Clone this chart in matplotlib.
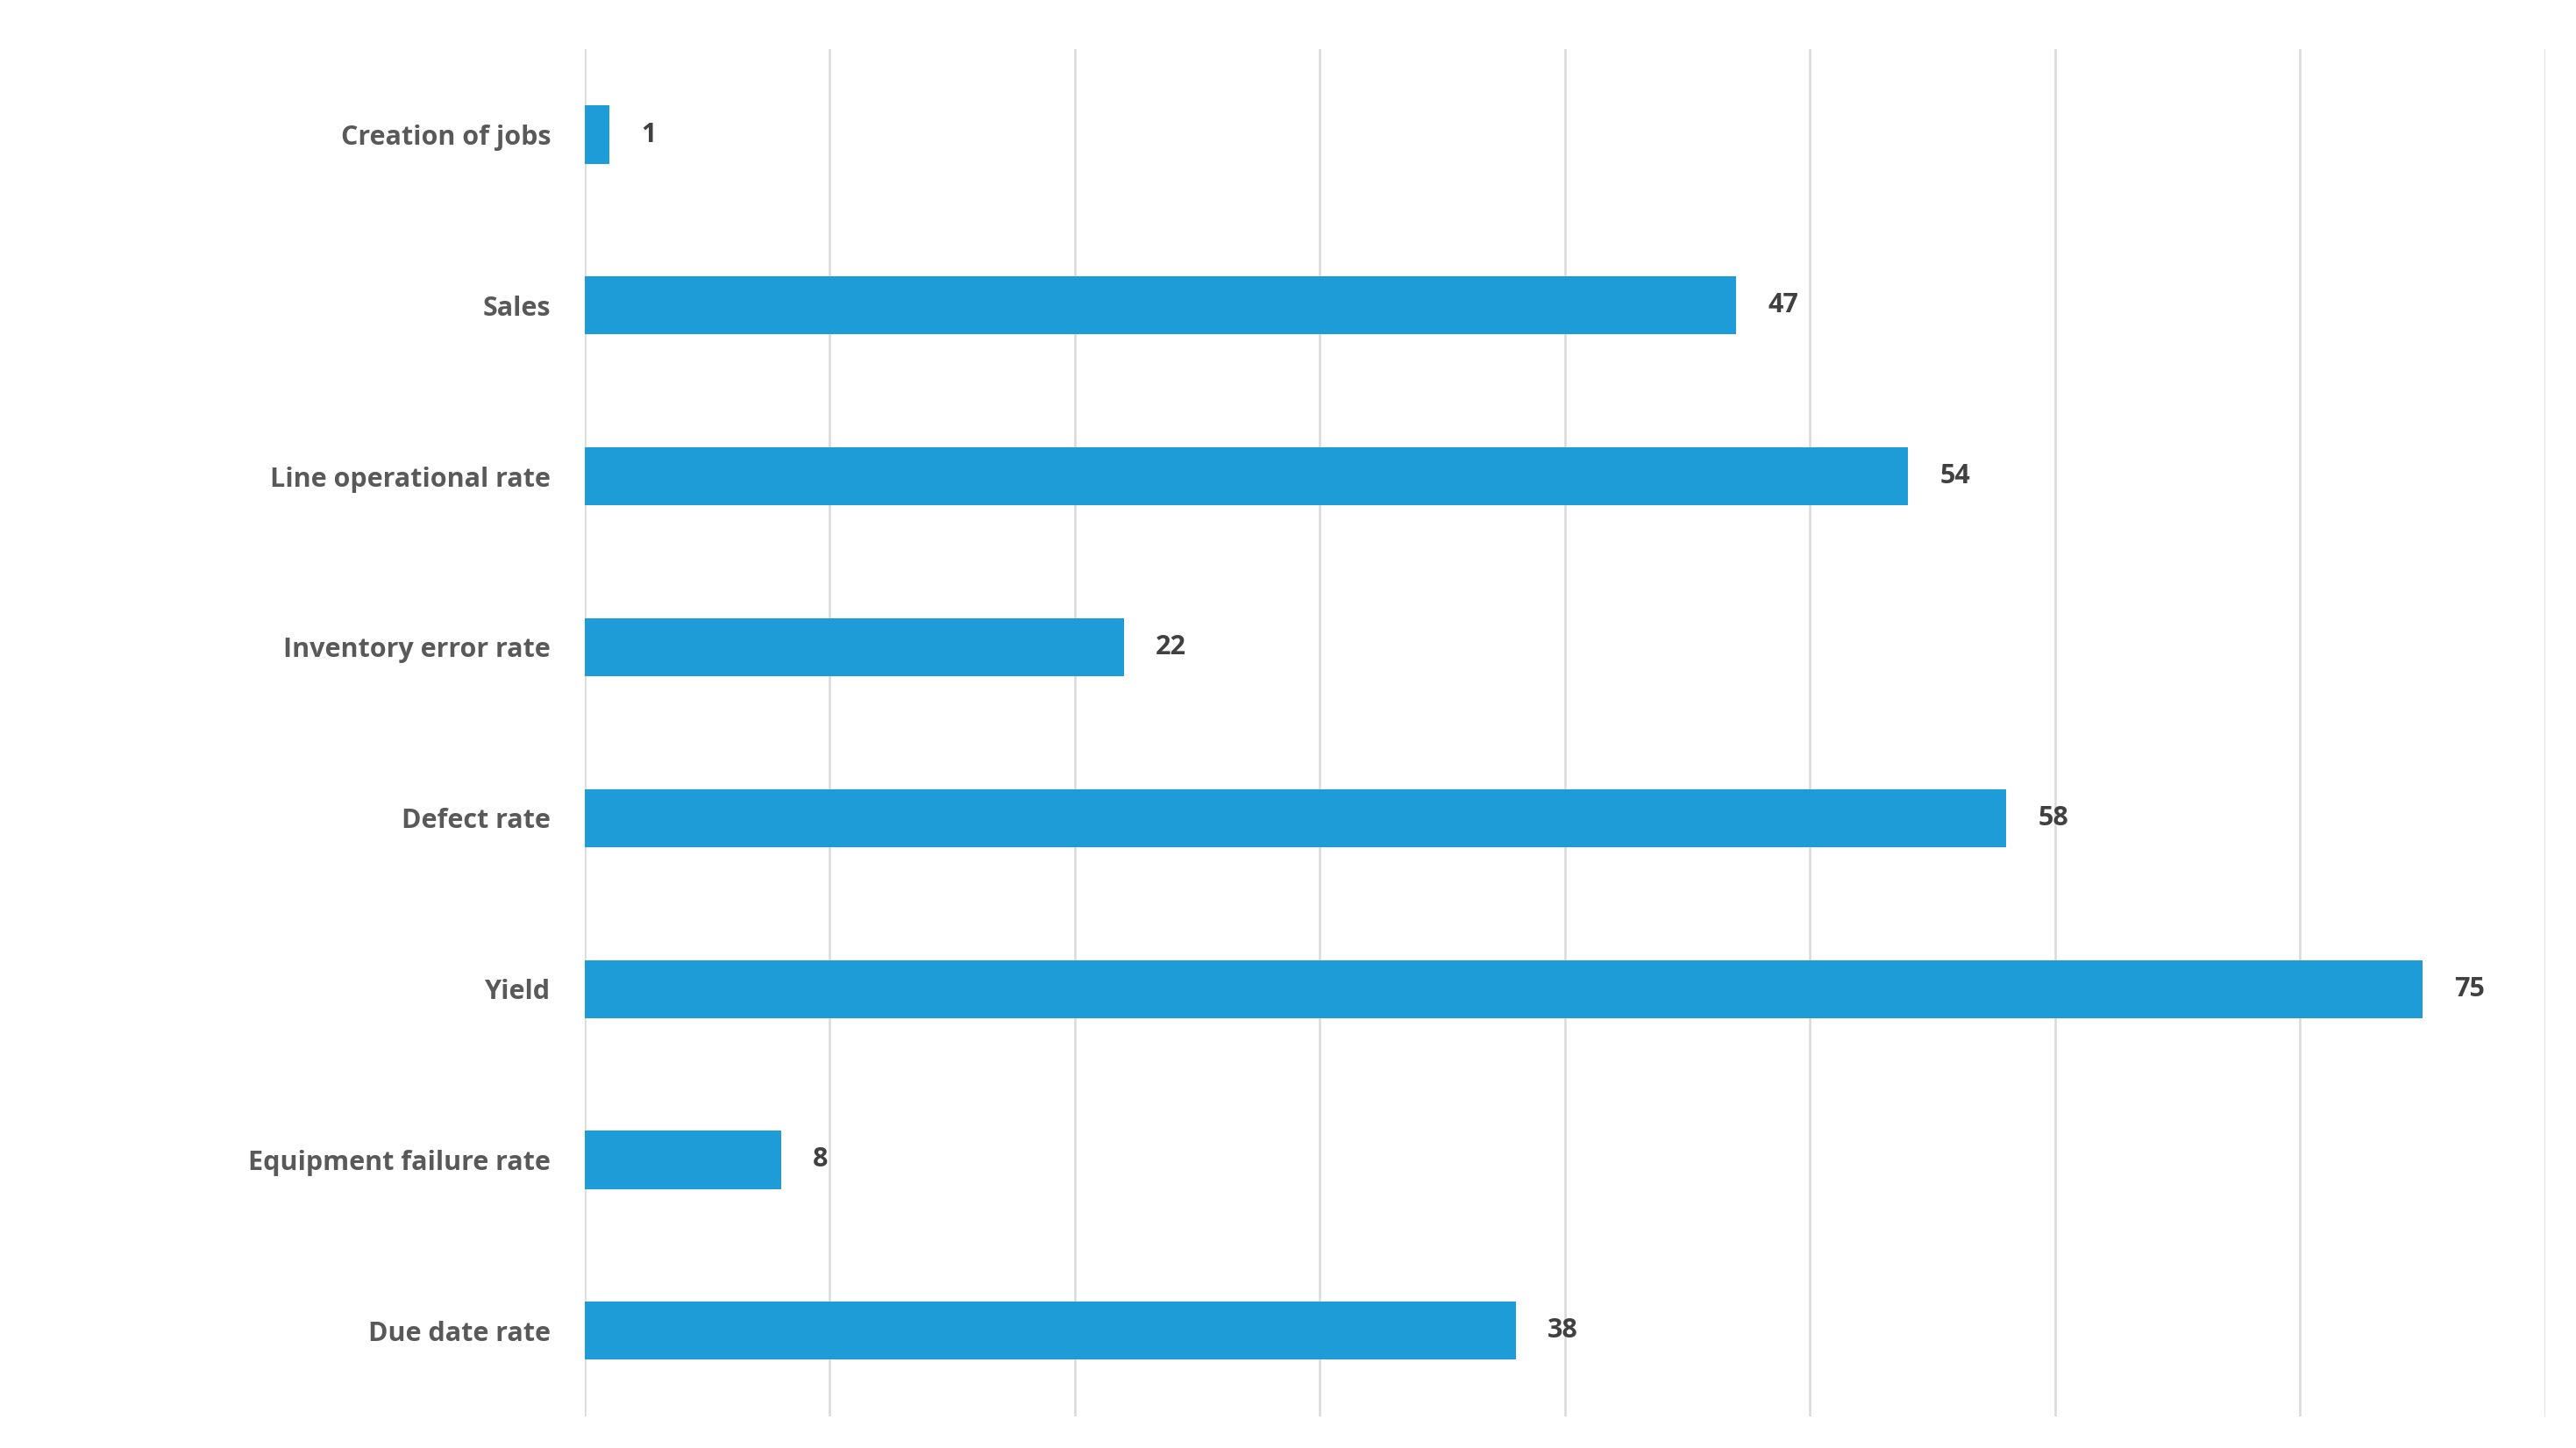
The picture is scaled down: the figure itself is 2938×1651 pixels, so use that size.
import matplotlib

matplotlib.use('Agg')
import matplotlib.pyplot as plt

categories = ['Creation of jobs', 'Sales', 'Line operational rate', 'Inventory error rate',
              'Defect rate', 'Yield', 'Equipment failure rate', 'Due date rate']
values = [1, 47, 54, 22, 58, 75, 8, 38]

plt.rcParams['font.family'] = ['Open Sans', 'DejaVu Sans']

fig = plt.figure(figsize=(29.38, 16.51), dpi=100)
ax = fig.add_axes([0.227, 0.022, 0.761, 0.944])

pos = list(range(len(categories)))
ax.barh(pos, values, height=0.34, color='#1E9CD7', zorder=3)
for p, v in zip(pos, values):
    ax.text(v + 1.3, p, str(v), va='center', ha='left', fontsize=22,
            fontweight='bold', color='#404040')

ax.set_ylim(7.5, -0.5)
ax.set_xlim(0, 80)
ax.set_xticks(range(0, 81, 10))
ax.set_xticklabels([])
ax.set_yticks(pos)
ax.set_yticklabels(categories, fontsize=22, fontweight='bold', color='#595959')
ax.tick_params(axis='both', length=0, pad=28)
ax.grid(axis='x', color='#D9D9D9', linewidth=1.8, zorder=0)
for s in ax.spines.values():
    s.set_visible(False)

plt.savefig('out.png', dpi=100)
plt.close()
